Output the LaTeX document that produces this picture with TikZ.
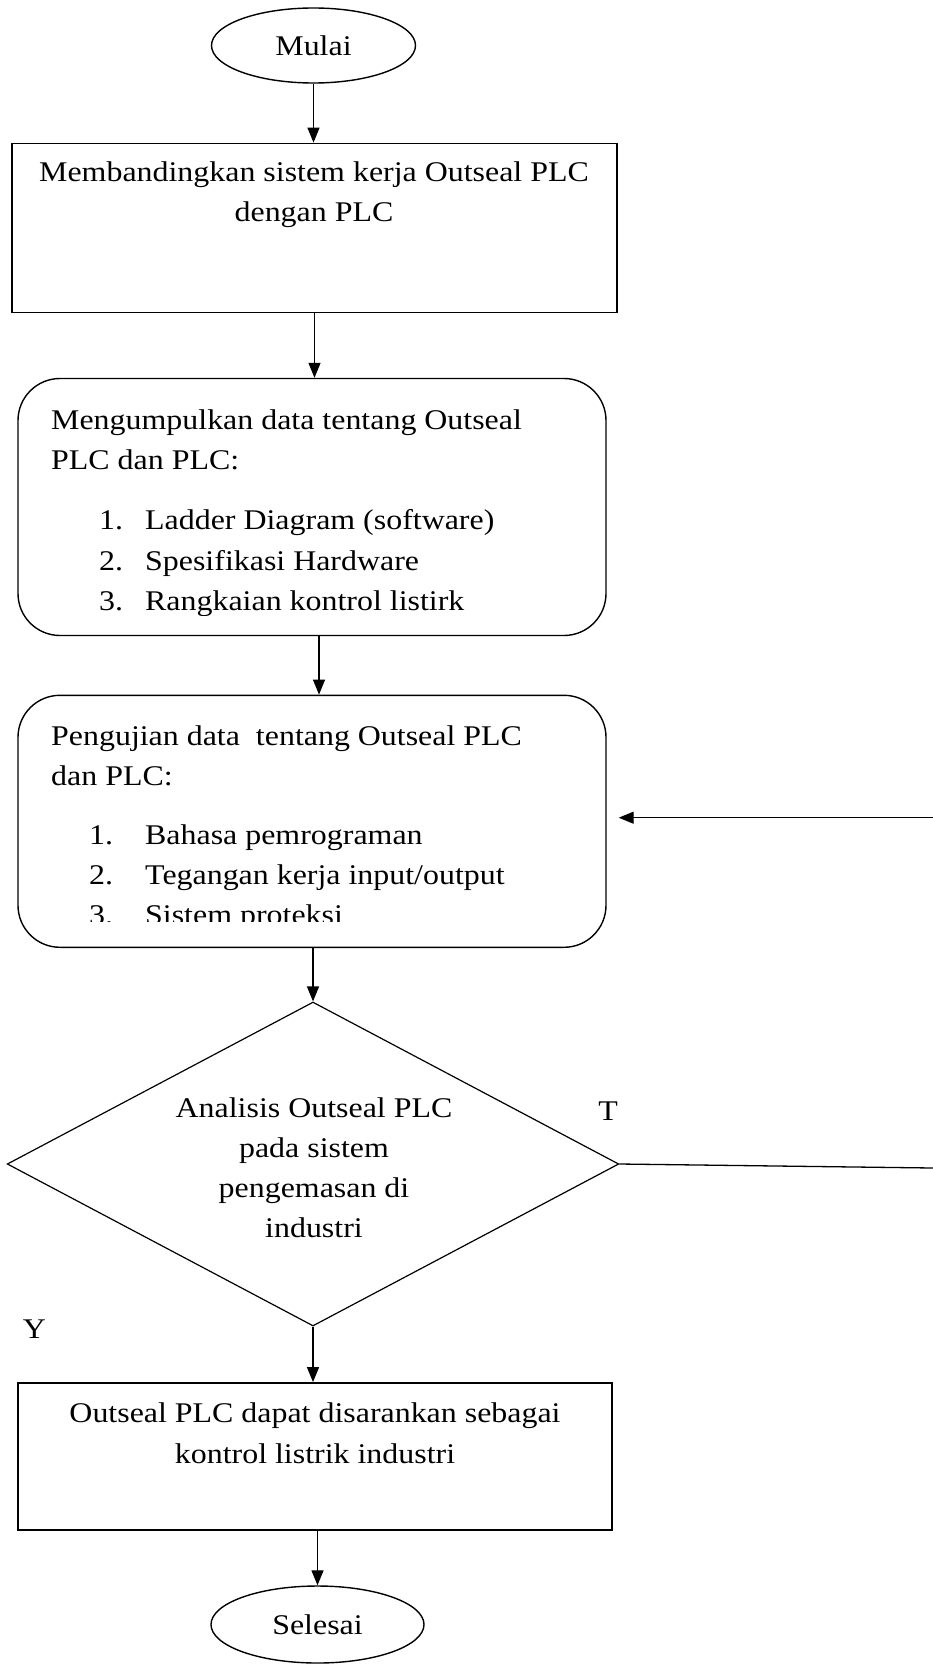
\documentclass[tikz,border=0pt]{standalone}
\usepackage{fontspec}
\setmainfont{Liberation Serif}[FakeStretch=1.12]
\usetikzlibrary{shapes.geometric,arrows.meta}
\begin{document}
\begin{tikzpicture}[x=1pt,y=-1pt,
  txt/.style={font=\fontsize{28.5}{40}\selectfont, inner sep=0pt},
  lw/.style={txt, anchor=base west},
  lc/.style={txt, anchor=base},
  term/.style={ellipse, draw, line width=1.4pt, inner sep=0pt, font=\fontsize{28.5}{40}\selectfont},
  proc/.style={rectangle, draw, line width=1.8pt, inner sep=0pt},
  rproc/.style={rectangle, draw, rounded corners=42pt, line width=1.4pt, inner sep=0pt},
  dec/.style={diamond, draw, line width=1.2pt, inner sep=0pt},
  arr/.style={-{Triangle[length=15pt,width=12pt]}, line width=1.3pt},
  conn/.style={line width=1.3pt}]
\useasboundingbox (0,0) rectangle (933,1664);

% start
\node[term, minimum width=204pt, minimum height=75pt] (start) at (313.5,45.5) {Mulai};

% box 1
\node[proc, minimum width=605pt, minimum height=169pt] (b1) at (314.5,228) {};
\node[lc] (b1a) at (314,181.7) {Membandingkan sistem kerja Outseal PLC};
\node[lc] (b1b) at (314,221.7) {dengan PLC};

% box 2
\node[rproc, minimum width=588pt, minimum height=257pt] (b2) at (312,507) {};
\node[lw] (b2a) at (51,429) {Mengumpulkan data tentang Outseal};
\node[lw] (b2b) at (51,469) {PLC dan PLC:};
\node[lw] (b2n1) at (99,529) {1.};
\node[lw] (b2i1) at (145,529) {Ladder Diagram (software)};
\node[lw] (b2n2) at (99,570) {2.};
\node[lw] (b2i2) at (145,570) {Spesifikasi Hardware};
\begin{scope}
\clip (0,0) rectangle (933,615);
\node[lw] (b2n3) at (99,610) {3.};
\node[lw] (b2i3) at (145,610) {Rangkaian kontrol listirk};
\end{scope}

% box 3
\node[rproc, minimum width=588pt, minimum height=252pt] (b3) at (312,821.3) {};
\node[lw] (b3a) at (51,745) {Pengujian data\ \ tentang Outseal PLC};
\node[lw] (b3b) at (51,785) {dan PLC:};
\node[lw] (b3n1) at (89,844) {1.};
\node[lw] (b3i1) at (145,844) {Bahasa pemrograman};
\node[lw] (b3n2) at (89,884) {2.};
\node[lw] (b3i2) at (145,884) {Tegangan kerja input/output};
\begin{scope}
\clip (0,0) rectangle (933,921);
\node[lw] (b3n3) at (89,924) {3.};
\node[lw] (b3i3) at (145,924) {Sistem proteksi};
\end{scope}

% decision
\node[dec, minimum width=611.6pt, minimum height=324pt] (dia) at (313,1164) {};
\node[lc] (d1) at (314,1117) {Analisis Outseal PLC};
\node[lc] (d2) at (314,1157) {pada sistem};
\node[lc] (d3) at (314,1197) {pengemasan di};
\node[lc] (d4) at (314,1237) {industri};
\node[lc] (tl) at (608,1120) {T};
\node[lc] (yl) at (34.5,1338) {Y};

% box 4
\node[proc, minimum width=594pt, minimum height=147pt] (b4) at (315,1456.5) {};
\node[lc] (b4a) at (315,1422.3) {Outseal PLC dapat disarankan sebagai};
\node[lc] (b4b) at (315,1463.3) {kontrol listrik industri};

% end
\node[term, minimum width=213pt, minimum height=77pt] (stop) at (317.5,1624.5) {Selesai};

% connectors
\draw[arr] (start.south) -- (start.south |- b1.north);
\draw[arr] (b1.south) -- (b1.south |- b2.north);
\draw[arr] ([xshift=7pt]b2.south) -- ([xshift=7pt]b2.south |- b3.north);
\draw[arr] (b3.south -| dia.north) -- (dia.north);
\draw[arr] (dia.south) -- (dia.south |- b4.north);
\draw[arr] (b4.south -| stop.north) -- (stop.north);

\coordinate (r1) at (933,1168);
\coordinate (r2) at (933,817.7);
\draw[conn] (dia.east) -- (r1);
\draw[arr, shorten >=12pt] (r2) -- (r2 -| b3.east);
\end{tikzpicture}
\end{document}
